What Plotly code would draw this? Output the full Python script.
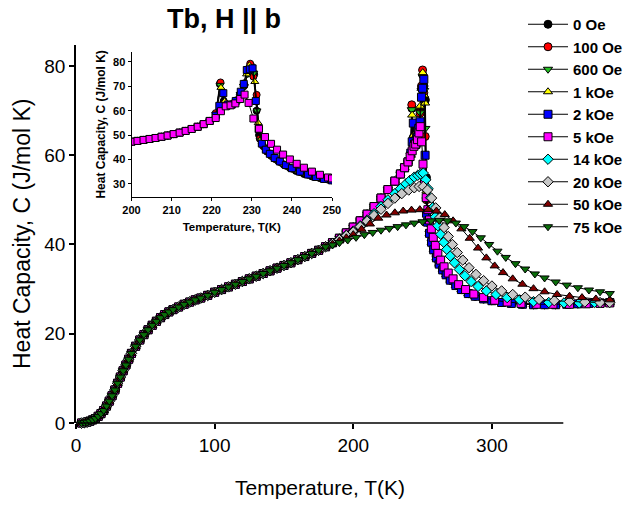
import plotly.graph_objects as go

# ---------------- DATA ----------------
fields = ["0 Oe", "100 Oe", "600 Oe", "1 kOe", "2 kOe", "5 kOe", "14 kOe", "20 kOe", "50 kOe", "75 kOe"]
colors = ["#000000", "#ff0000", "#22c022", "#ffff00", "#0000ff", "#ff00ff", "#00ffff", "#c8c8c8", "#800000", "#0a6e0a"]
symbols = ["circle", "circle", "triangle-down", "triangle-up", "square", "square", "diamond", "diamond", "triangle-up", "triangle-down"]

# main plot: low-temperature part shared by all fields
T_low = [4, 6, 8, 10, 12, 14, 16, 18, 20, 22, 24, 26, 28, 30, 32, 34, 36, 38, 40, 43, 46, 49, 52, 55, 58, 61, 64,
         67, 70, 74, 78, 82, 86, 90, 95, 100, 105, 110, 115, 120, 125, 130, 135, 140, 145, 150, 155, 160, 165,
         170, 175, 180]
C_low = [0.0, 0.1, 0.2, 0.4, 0.7, 1.0, 1.5, 2.1, 2.8, 3.8, 4.9, 6.1, 7.4, 8.9, 10.3, 11.7, 13.0, 14.3, 15.6, 17.2,
         18.6, 19.8, 20.9, 21.9, 22.8, 23.6, 24.3, 24.9, 25.4, 26.0, 26.6, 27.1, 27.6, 28.0, 28.6, 29.3, 29.9, 30.5,
         31.1, 31.7, 32.3, 32.9, 33.5, 34.1, 34.7, 35.3, 35.9, 36.6, 37.3, 38.0, 38.7, 39.5]

# low-field curves (0 Oe .. 2 kOe): before and after the transitions
T_lf_pre = [185, 190, 195, 200, 205, 210, 215, 220, 225, 230, 234, 237, 239.5]
C_lf_pre = [40.4, 41.4, 42.6, 43.9, 45.3, 46.8, 48.5, 50.4, 52.3, 54.2, 55.8, 57.2, 58.5]
T_lf_post = [253.6, 255, 256.5, 258, 260, 262, 264.5, 267, 270, 274, 278, 283, 288, 294, 300, 307, 314, 322, 330,
             338, 346, 354, 362, 370, 378, 385]
C_lf_post = [45.0, 42.5, 40.5, 38.8, 37.0, 35.6, 34.3, 33.2, 32.0, 30.8, 29.9, 29.0, 28.4, 27.8, 27.4, 27.0, 26.8,
             26.6, 26.5, 26.5, 26.5, 26.6, 26.7, 26.8, 26.9, 27.0]

# peak regions
T_pk_0 = [241.2, 242.3, 243.3, 244.3, 245.3, 246.3, 247.3, 248.3, 249.3, 250.1, 251.0, 252.0, 252.8]
C_pk_0 = [60.0, 70.5, 64.0, 62.0, 62.5, 64.0, 66.5, 70.0, 75.0, 78.0, 75.5, 72.4, 55.0]
T_pk_100 = [241.3, 242.2, 243.2, 244.2, 245.2, 246.2, 247.2, 248.2, 249.2, 250.0, 250.9, 251.9, 252.8]
C_pk_100 = [60.5, 71.3, 63.0, 62.0, 62.8, 64.3, 67.0, 69.4, 75.5, 79.1, 74.0, 64.2, 50.0]
T_pk_600 = [241.3, 242.3, 243.3, 244.3, 245.3, 246.3, 247.3, 248.3, 249.3, 250.2, 251.1, 252.0, 252.8]
C_pk_600 = [60.0, 70.2, 63.0, 62.0, 62.5, 64.0, 66.5, 69.5, 74.5, 77.5, 74.5, 66.0, 50.0]
T_pk_1k = [241.5, 242.5, 243.5, 244.5, 245.5, 246.5, 247.5, 248.2, 249.2, 250.1, 251.0, 251.8, 252.8]
C_pk_1k = [60.0, 69.0, 64.5, 62.0, 62.5, 64.0, 66.5, 71.0, 75.0, 78.5, 73.5, 71.7, 52.0]
T_pk_2k = [241.5, 242.5, 243.3, 244.2, 245.2, 246.2, 247.2, 248.2, 249.2, 250.0, 250.9, 251.8, 252.8]
C_pk_2k = [60.5, 63.0, 67.2, 62.5, 62.5, 64.0, 66.0, 67.5, 73.0, 75.0, 77.0, 60.0, 47.0]

T_hi_5k = [241.0, 242.5, 243.8, 245.0, 246.3, 247.4, 248.3, 249.3, 250.3, 251.4, 252.6, 253.8, 255.0, 256.3, 257.7,
           259.2, 261, 263, 265.5, 268.5, 272, 276, 281, 287, 294, 302, 311, 321, 332, 344, 356, 368, 378, 385]
C_hi_5k = [59.7, 61.0, 62.0, 62.5, 63.5, 65.0, 66.4, 63.0, 58.0, 54.0, 50.5, 47.8, 45.5, 43.5, 41.6, 39.8, 38.0,
           36.5, 35.0, 33.6, 32.3, 31.0, 29.9, 28.9, 28.1, 27.5, 27.1, 26.8, 26.6, 26.6, 26.6, 26.7, 26.8, 26.9]

T_hi_14k = [185, 190, 195, 200, 205, 210, 215, 220, 225, 230, 234, 238, 241, 244, 246.5, 248.5, 250.5, 252.3, 254,
            255.7, 257.4, 259.2, 261, 263, 265.2, 267.5, 270, 273, 276.5, 280.5, 285, 290, 296, 303, 311, 320, 330,
            341, 352, 363, 374, 385]
C_hi_14k = [40.3, 41.2, 42.1, 43.0, 44.2, 45.5, 46.9, 48.5, 50.0, 51.4, 52.5, 53.6, 54.4, 55.1, 55.5, 55.8, 56.0,
            54.5, 52.5, 50.5, 48.3, 46.2, 44.2, 42.3, 40.5, 38.9, 37.4, 35.9, 34.4, 33.0, 31.7, 30.6, 29.6, 28.8,
            28.1, 27.6, 27.2, 27.0, 26.9, 26.9, 27.0, 27.1]

T_hi_20k = [185, 190, 195, 200, 205, 210, 215, 220, 225, 230, 235, 240, 244, 247.5, 250.5, 253.5, 256.5, 259.5,
            262.5, 265.5, 268.5, 271.5, 275, 279, 283.5, 288.5, 294, 300, 307, 315, 324, 334, 345, 356, 367, 378, 385]
C_hi_20k = [40.2, 41.1, 42.0, 42.8, 44.0, 45.2, 46.5, 47.9, 49.2, 50.4, 51.4, 52.2, 52.7, 53.0, 53.0, 52.2, 50.4,
            48.2, 46.0, 43.8, 41.8, 40.0, 38.2, 36.5, 34.8, 33.3, 31.9, 30.7, 29.6, 28.8, 28.2, 27.7, 27.4, 27.2,
            27.1, 27.0, 27.0]

T_hi_50k = [185, 190, 195, 200, 206, 212, 218, 224, 230, 236, 242, 248, 254, 260, 266, 272, 278, 284, 290, 296, 302,
            308, 315, 322, 330, 338, 347, 356, 365, 375, 385]
C_hi_50k = [40.1, 40.8, 41.5, 42.2, 43.4, 44.6, 45.9, 46.6, 47.1, 47.5, 47.7, 47.8, 47.8, 47.5, 46.7, 45.3, 43.5,
            41.4, 39.2, 37.0, 35.2, 33.7, 32.3, 31.1, 30.1, 29.4, 28.8, 28.4, 28.1, 27.8, 27.6]

T_hi_75k = [185, 190, 196, 202, 208, 214, 220, 226, 232, 238, 244, 250, 256, 262, 268, 274, 280, 286, 292, 298, 304,
            310, 317, 324, 331, 338, 346, 354, 362, 370, 378, 385]
C_hi_75k = [39.9, 40.4, 41.0, 41.6, 42.2, 42.7, 43.2, 43.6, 44.0, 44.4, 44.8, 45.1, 45.3, 45.4, 45.3, 44.8, 44.0,
            42.9, 41.5, 40.0, 38.5, 37.1, 35.7, 34.5, 33.4, 32.5, 31.6, 30.9, 30.3, 29.8, 29.4, 29.0]

# inset (200-250 K), shared rise, then per-field transition region
Ti_common = [200, 201.5, 203, 204.5, 206, 207.5, 209, 210.5, 212, 213.5, 215, 216.5, 218, 219.5]
Ci_common = [47.3, 47.6, 48.0, 48.4, 48.8, 49.3, 49.8, 50.4, 51.0, 51.7, 52.5, 53.4, 54.5, 55.8]

Ti_0 = [221, 222, 223, 224, 225, 226, 227, 228, 229, 229.8, 230.6, 231.2, 231.8, 232.5, 233.5, 234.5, 235.5, 236.5,
        238, 239.5, 241, 243, 245, 247, 249, 250]
Ci_0 = [58.5, 71.0, 64.0, 62.0, 62.5, 64.0, 66.5, 70.0, 75.5, 78.5, 75.0, 60.0, 50.0, 46.5, 44.0, 42.3, 40.8, 39.5,
        37.8, 36.5, 35.3, 34.0, 33.0, 32.3, 31.7, 31.4]
Ti_100 = [221, 222.2, 223.2, 224.2, 225.2, 226.2, 227.2, 228.2, 229, 229.6, 230.4, 231.2, 232, 232.8, 233.8, 234.8,
          235.8, 237, 238.5, 240, 242, 244, 246, 248, 250]
Ci_100 = [59.0, 71.6, 62.5, 62.0, 62.8, 64.3, 67.0, 70.5, 76.0, 79.3, 74.0, 66.5, 48.5, 45.5, 43.2, 41.5, 40.2,
          38.9, 37.4, 36.2, 34.8, 33.7, 32.8, 32.1, 31.5]
Ti_600 = [221, 222.1, 223.1, 224.1, 225.1, 226.1, 227.1, 228.1, 229, 229.7, 230.5, 231.3, 232.1, 233, 234, 235,
          236, 237.3, 238.8, 240.5, 242.5, 244.5, 246.5, 248.5, 250]
Ci_600 = [58.5, 70.5, 63.0, 62.0, 62.5, 64.0, 66.8, 70.0, 75.0, 78.0, 75.5, 60.0, 48.0, 45.0, 43.0, 41.3, 40.0,
          38.6, 37.2, 35.9, 34.6, 33.5, 32.6, 31.9, 31.5]
Ti_1k = [221, 222.3, 223.3, 224.3, 225.3, 226.3, 227.2, 227.9, 228.7, 229.4, 230.1, 230.75, 231.6, 232.3, 233.3,
         234.3, 235.3, 236.5, 238, 239.5, 241.5, 243.5, 245.5, 247.5, 250]
Ci_1k = [58.0, 69.5, 64.0, 62.0, 62.5, 64.0, 66.5, 71.3, 75.0, 78.7, 77.0, 71.9, 55.0, 48.3, 45.0, 42.8, 41.0, 39.6,
         38.0, 36.7, 35.2, 34.0, 33.0, 32.2, 31.4]
Ti_2k = [221, 221.9, 222.9, 224, 225, 226, 227.25, 228, 228.75, 229.5, 230.2, 231, 231.7, 232.5, 233.5, 234.5,
         235.7, 237, 238.5, 240, 242, 244, 246, 248, 250]
Ci_2k = [58.0, 62.0, 67.2, 62.5, 62.5, 64.0, 67.8, 71.0, 76.7, 77.0, 77.4, 64.0, 52.5, 46.5, 44.0, 42.3, 40.6, 39.2,
         37.7, 36.4, 35.0, 33.8, 32.8, 32.0, 31.4]
Ti_5k = [221, 222.3, 223.5, 224.7, 225.9, 227.1, 228.2, 229.2, 230.4, 231.8, 233.3, 234.8, 236.3, 237.8, 239.5,
         241.2, 243, 245, 247, 249, 250]
Ci_5k = [57.0, 59.8, 61.8, 62.2, 63.0, 64.8, 66.6, 63.2, 56.8, 52.6, 49.2, 46.4, 44.0, 42.0, 40.0, 38.2, 36.6,
         35.0, 33.7, 32.6, 32.2]

main_T = [
    T_low + T_lf_pre + T_pk_0 + T_lf_post,
    T_low + T_lf_pre + T_pk_100 + T_lf_post,
    T_low + T_lf_pre + T_pk_600 + T_lf_post,
    T_low + T_lf_pre + T_pk_1k + T_lf_post,
    T_low + T_lf_pre + T_pk_2k + T_lf_post,
    T_low + T_lf_pre + T_hi_5k,
    T_low + T_hi_14k,
    T_low + T_hi_20k,
    T_low + T_hi_50k,
    T_low + T_hi_75k,
]
main_C = [
    C_low + C_lf_pre + C_pk_0 + C_lf_post,
    C_low + C_lf_pre + C_pk_100 + C_lf_post,
    C_low + C_lf_pre + C_pk_600 + C_lf_post,
    C_low + C_lf_pre + C_pk_1k + C_lf_post,
    C_low + C_lf_pre + C_pk_2k + C_lf_post,
    C_low + C_lf_pre + C_hi_5k,
    C_low + C_hi_14k,
    C_low + C_hi_20k,
    C_low + C_hi_50k,
    C_low + C_hi_75k,
]
inset_T = [Ti_common + Ti_0, Ti_common + Ti_100, Ti_common + Ti_600, Ti_common + Ti_1k, Ti_common + Ti_2k,
           Ti_common + Ti_5k]
inset_C = [Ci_common + Ci_0, Ci_common + Ci_100, Ci_common + Ci_600, Ci_common + Ci_1k, Ci_common + Ci_2k,
           Ci_common + Ci_5k]

x_ticks = [0, 100, 200, 300]
y_ticks = [0, 20, 40, 60, 80]
xi_ticks = [200, 210, 220, 230, 240, 250]
yi_ticks = [30, 40, 50, 60, 70, 80]

# ---------------- FIGURE ----------------
FONT = "Liberation Sans, Arial, sans-serif"
W, H = 628, 506
ML, MR, MT, MB = 76, 3, 45, 83
pw, ph = W - ML - MR, H - MT - MB

fig = go.Figure()
for i, name in enumerate(fields):
    fig.add_trace(go.Scatter(
        x=main_T[i], y=main_C[i], mode="lines+markers", name=name,
        line=dict(color="black", width=1),
        marker=dict(symbol=symbols[i], color=colors[i], size=8, line=dict(color="black", width=1)),
        cliponaxis=False, xaxis="x", yaxis="y"))

for i in range(len(inset_T)):
    fig.add_trace(go.Scatter(
        x=inset_T[i], y=inset_C[i], mode="lines+markers", showlegend=False,
        line=dict(color="black", width=1),
        marker=dict(symbol=symbols[i], color=colors[i], size=7, line=dict(color="black", width=1)),
        xaxis="x2", yaxis="y2"))

def px_x(p):
    return (p - ML) / pw

def px_y(p):
    return (H - MB - p) / ph

fig.update_layout(
    width=W, height=H,
    margin=dict(l=ML, r=MR, t=MT, b=MB, pad=0, autoexpand=False),
    paper_bgcolor="white", plot_bgcolor="white",
    font=dict(family=FONT, color="black"),
    title=dict(text="<b>Tb, H || b</b>", font=dict(size=27, family=FONT, color="black"),
               x=224 / W, xref="container", xanchor="center",
               y=1 - 19 / H, yref="container", yanchor="middle"),
    xaxis=dict(range=[0, 396], domain=[0, 1], showline=False, showgrid=False, zeroline=False,
               tickvals=x_ticks, ticks="outside", ticklen=5, tickwidth=1.5, tickcolor="black",
               tickfont=dict(size=19, family=FONT, color="black"), anchor="y"),
    yaxis=dict(range=[0, 84.7], domain=[0, 1], showline=True, linecolor="black", linewidth=1.5,
               showgrid=False, zeroline=False, tickvals=y_ticks, ticks="outside", ticklen=5,
               tickwidth=1.5, tickcolor="black", tickfont=dict(size=19, family=FONT, color="black"),
               anchor="x"),
    xaxis2=dict(range=[200, 250], domain=[px_x(131.5), px_x(332)], anchor="y2",
                showline=True, linecolor="black", linewidth=1, showgrid=False, zeroline=False,
                tickvals=xi_ticks, ticks="outside", ticklen=3, tickcolor="black",
                tickfont=dict(size=11, family=FONT, color="black", weight="bold"),
                title=dict(text="Temperature, T(K)", standoff=8,
                           font=dict(size=11.5, family=FONT, color="black", weight="bold"))),
    yaxis2=dict(range=[24.7, 84.1], domain=[px_y(196.7), px_y(52)], anchor="x2",
                showline=True, linecolor="black", linewidth=1, showgrid=False, zeroline=False,
                tickvals=yi_ticks, ticks="outside", ticklen=3, tickcolor="black",
                tickfont=dict(size=11, family=FONT, color="black", weight="bold"),
                title=dict(text="Heat Capacity, C (J/mol K)", standoff=4,
                           font=dict(size=12, family=FONT, color="black", weight="bold"))),
    legend=dict(xref="container", yref="container", x=1.0, y=1 - 8 / H,
                xanchor="right", yanchor="top", itemwidth=40,
                bgcolor="rgba(0,0,0,0)", borderwidth=0,
                font=dict(size=15, family=FONT, color="black", weight="bold")),
    shapes=[dict(type="line", xref="x", yref="paper", x0=0, x1=351.5, y0=0, y1=0,
                 line=dict(color="black", width=1.5), layer="above")],
    annotations=[
        dict(text="Temperature, T(K)", xref="paper", yref="paper", x=px_x(320), y=px_y(487),
             xanchor="center", yanchor="middle", showarrow=False,
             font=dict(size=21, family=FONT, color="black")),
        dict(text="Heat Capacity, C (J/mol K)", xref="paper", yref="paper", x=px_x(22), y=0.5,
             xanchor="center", yanchor="middle", showarrow=False, textangle=-90,
             font=dict(size=23, family=FONT, color="black")),
    ],
)

fig.write_html("out.html")
